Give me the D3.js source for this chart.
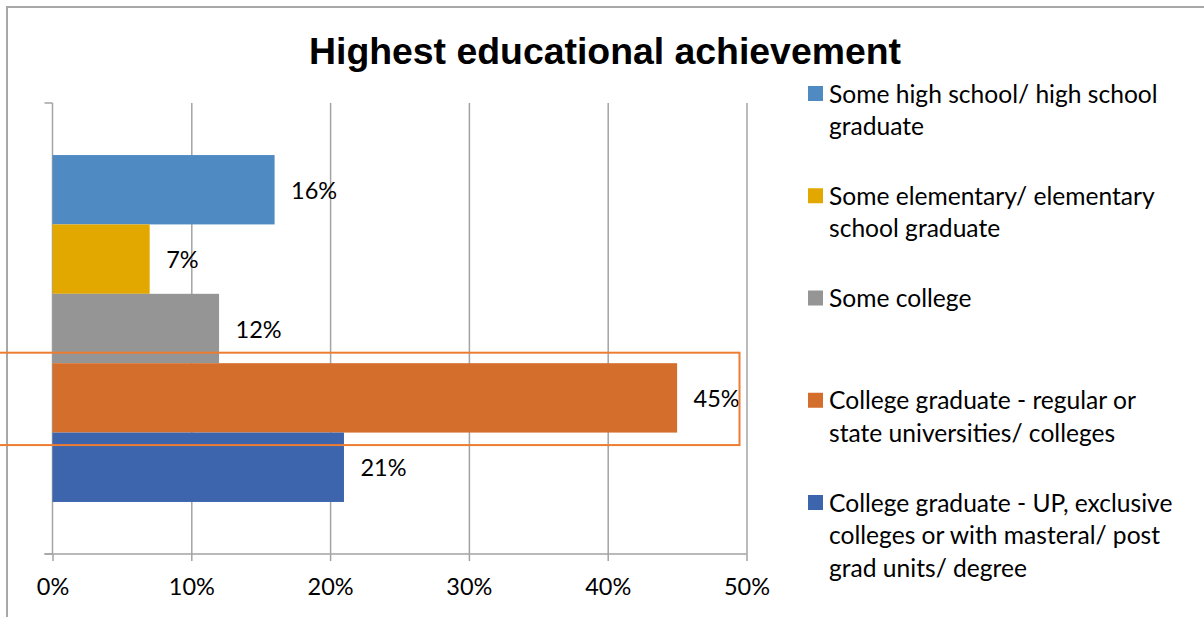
<!DOCTYPE html>
<html>
<head>
<meta charset="utf-8">
<script src="https://cdn.jsdelivr.net/npm/d3@7"></script>
<style>
  html, body { margin: 0; padding: 0; background: #ffffff; }
  svg { display: block; }
</style>
</head>
<body>
<svg id="chart" width="1204" height="617"></svg>
<script>
// Survey result: highest educational achievement (share of respondents)
const title = "Highest educational achievement";
const seriesNames = [
  "Some high school/ high school graduate",
  "Some elementary/ elementary school graduate",
  "Some college",
  "College graduate - regular or state universities/ colleges",
  "College graduate - UP, exclusive colleges or with masteral/ post grad units/ degree"
];
const seriesValues = [16, 7, 12, 45, 21];
const seriesColors = ["#4f8bc2", "#e3a800", "#959595", "#d46e2c", "#3d65ae"];
const xTicks = [0, 10, 20, 30, 40, 50];
const highlighted = "College graduate - regular or state universities/ colleges";

const bodyFont = "Lato, 'Open Sans', 'DejaVu Sans', sans-serif";
const svg = d3.select("#chart");

// plot area
const plot = { left: 52.5, right: 746.5, top: 103, bottom: 554 };

const x = d3.scaleLinear().domain([0, 50]).range([plot.left, plot.right]);
const y = d3.scaleBand()
  .domain(seriesNames)
  .range([plot.top, plot.bottom])
  .paddingInner(0)
  .paddingOuter(0.75);

const gridColor = "#a3a3a3";

// chart frame
svg.append("rect")
  .attr("x", 7).attr("y", 7)
  .attr("width", 1300).attr("height", 700)
  .attr("fill", "none")
  .attr("stroke", "#a8a8a8")
  .attr("stroke-width", 2);

// vertical gridlines
svg.append("g")
  .attr("transform", `translate(0,${plot.top})`)
  .call(d3.axisBottom(x).tickValues(xTicks.slice(1)).tickSize(plot.bottom - plot.top).tickFormat(""))
  .call(g => g.select(".domain").remove())
  .call(g => g.selectAll("line").attr("stroke", gridColor).attr("stroke-width", 1.5));

// value axis (bottom)
const xAxis = svg.append("g")
  .attr("transform", `translate(0,${plot.bottom})`)
  .call(d3.axisBottom(x).tickValues(xTicks).tickSizeInner(7).tickSizeOuter(0).tickPadding(17)
    .tickFormat(d => d + "%"));
xAxis.select(".domain").remove();
xAxis.selectAll("line").attr("stroke", gridColor).attr("stroke-width", 1.5);
xAxis.selectAll("text")
  .attr("fill", "#000")
  .style("font-family", bodyFont)
  .style("font-size", "23.5px");

// axis lines
const axisG = svg.append("g").attr("stroke", gridColor).attr("stroke-width", 1.5);
axisG.append("line")
  .attr("x1", plot.left - 8).attr("x2", x(50))
  .attr("y1", plot.bottom).attr("y2", plot.bottom);
axisG.append("line")
  .attr("x1", plot.left).attr("x2", plot.left)
  .attr("y1", plot.top).attr("y2", plot.bottom);
axisG.selectAll(".cattick")
  .data([plot.top, plot.bottom])
  .join("line")
  .attr("x1", plot.left - 8).attr("x2", plot.left)
  .attr("y1", d => d).attr("y2", d => d);

// bars
const rows = seriesNames.map((name, i) => ({ name, value: seriesValues[i], color: seriesColors[i] }));

svg.append("g")
  .selectAll("rect")
  .data(rows)
  .join("rect")
  .attr("x", x(0))
  .attr("y", d => y(d.name))
  .attr("width", d => x(d.value) - x(0))
  .attr("height", y.bandwidth())
  .attr("fill", d => d.color);

// value labels
svg.append("g")
  .selectAll("text")
  .data(rows)
  .join("text")
  .attr("x", d => x(d.value) + 16.5)
  .attr("y", d => y(d.name) + y.bandwidth() / 2 + 9)
  .attr("fill", "#000")
  .style("font-family", bodyFont)
  .style("font-size", "23.5px")
  .text(d => d.value + "%");

// emphasis box around the highlighted bar
svg.append("rect")
  .attr("x", -1)
  .attr("y", y(highlighted) - 10.5)
  .attr("width", x(50) - 7 + 1)
  .attr("height", y.bandwidth() + 23)
  .attr("fill", "none")
  .attr("stroke", "#ed7d31")
  .attr("stroke-width", 2);

// title
svg.append("text")
  .attr("x", 605)
  .attr("y", 64)
  .attr("text-anchor", "middle")
  .attr("textLength", 592)
  .attr("lengthAdjust", "spacingAndGlyphs")
  .attr("fill", "#000")
  .style("font-family", "'Liberation Sans', Arial, sans-serif")
  .style("font-weight", "bold")
  .style("font-size", "36.5px")
  .text(title);

// legend
const legendY = d3.scalePoint().domain(seriesNames).range([93.5, 502.5]);
const legendMaxWidth = 352;
const lineHeight = 32.5;
const legendFontSize = "24.6px";

const measurer = svg.append("text")
  .style("font-family", bodyFont)
  .style("font-size", legendFontSize)
  .attr("visibility", "hidden");
function wrap(label) {
  const words = label.split(" ");
  const lines = [];
  let line = "";
  for (const w of words) {
    const trial = line ? line + " " + w : w;
    measurer.text(trial);
    if (line && measurer.node().getComputedTextLength() > legendMaxWidth) {
      lines.push(line);
      line = w;
    } else {
      line = trial;
    }
  }
  if (line) lines.push(line);
  return lines;
}

const legend = svg.append("g");
rows.forEach(d => {
  const cy = legendY(d.name);
  legend.append("rect")
    .attr("x", 808).attr("y", cy - 7.5)
    .attr("width", 15).attr("height", 15)
    .attr("fill", d.color);
  const t = legend.append("text")
    .attr("fill", "#000")
    .style("font-family", bodyFont)
    .style("font-size", legendFontSize);
  wrap(d.name).forEach((ln, i) => {
    t.append("tspan")
      .attr("x", 829)
      .attr("y", cy + 9 + i * lineHeight)
      .text(ln);
  });
});
measurer.remove();
</script>
</body>
</html>
